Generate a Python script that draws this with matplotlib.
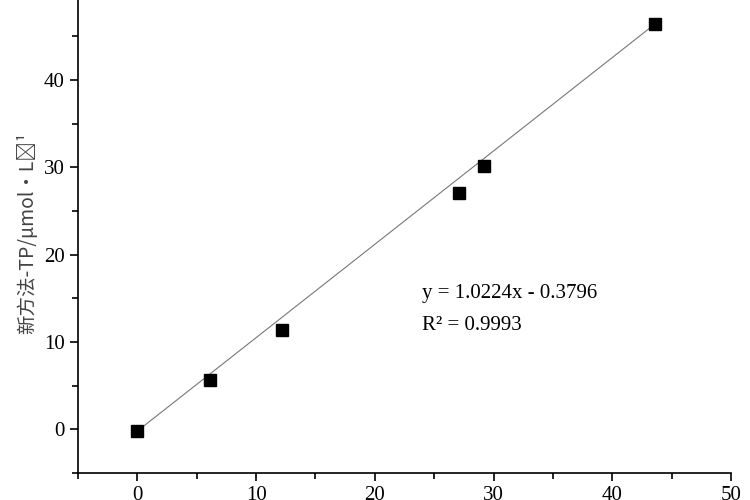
import numpy as np
import matplotlib.pyplot as plt

x_vals = [0.0, 6.1, 12.2, 27.1, 29.2, 43.6]
y_vals = [-0.2, 5.6, 11.4, 27.1, 30.1, 46.4]

plt.rcParams['font.family'] = ['Liberation Serif', 'Noto Sans CJK SC']

fig = plt.figure(figsize=(7.5, 5), dpi=100)
ax = fig.add_axes([78 / 750, 27 / 500, (731 - 78) / 750, 1.015 - 27 / 500])

# 拟合线
lx = np.array([x_vals[0], x_vals[-1]])
ax.plot(lx, [y_vals[0], y_vals[-1]], color='#777777', linewidth=0.8)
ax.plot(x_vals, y_vals, 's', color='black', markersize=8)

ax.set_xlim(-5, 50)
ax.set_ylim(-5, 50)
ax.set_xticks(range(0, 51, 10))
ax.set_yticks(range(0, 50, 10))
ax.set_xticks(range(-5, 51, 10), minor=True)
ax.set_yticks(range(-5, 51, 10), minor=True)
ax.tick_params(labelsize=15, direction='out', length=6, width=1.2)
ax.tick_params(which='minor', length=4, width=1.2)
ax.spines['top'].set_visible(False)
ax.spines['right'].set_visible(False)
for s in ['left', 'bottom']:
    ax.spines[s].set_linewidth(1.2)

ax.set_ylabel('新方法-TP/μmol·L⁻¹', fontsize=14, color='#444444',
              family=['Noto Sans CJK SC', 'Liberation Serif'])
ax.text(24, 15.6, 'y = 1.0224x - 0.3796', fontsize=15, va='center')
ax.text(24, 11.9, 'R² = 0.9993', fontsize=15, va='center')

fig.savefig('out.png', dpi=100)
